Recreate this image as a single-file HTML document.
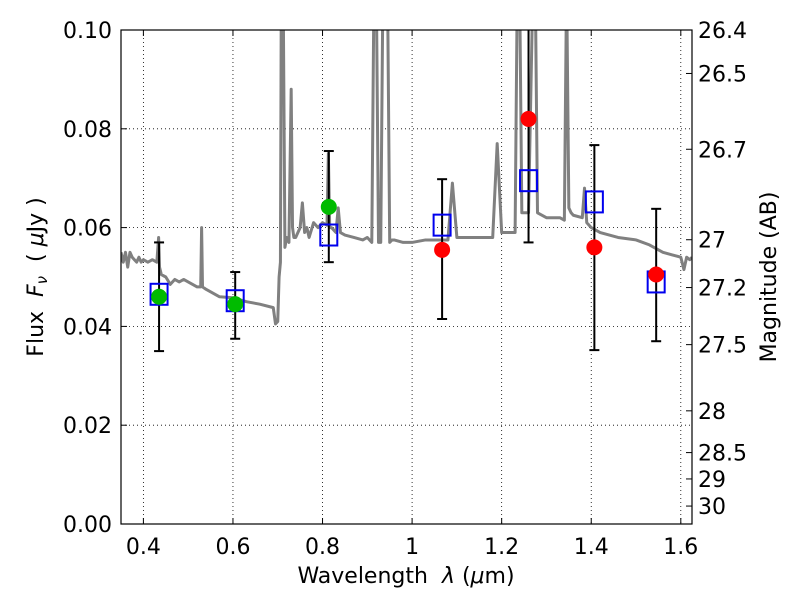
<!DOCTYPE html>
<html><head><meta charset="utf-8"><style>
body{margin:0;background:#fff}
svg text{font-family:"DejaVu Sans","Liberation Sans",sans-serif;fill:#000}
</style></head><body>
<svg id="chart" width="800" height="600" xmlns="http://www.w3.org/2000/svg">
<defs><clipPath id="clip"><rect x="121" y="30" width="571" height="494"/></clipPath></defs>
<g id="grid"></g>
<g id="spec" clip-path="url(#clip)"></g>
<g id="marks" clip-path="url(#clip)"></g>
<rect x="121" y="30" width="571" height="494" fill="none" stroke="#000" stroke-width="1.2"/>
<g id="axes"></g>
<text x="406" y="583" font-size="22" text-anchor="middle" xml:space="preserve">Wavelength  <tspan font-style="italic">λ</tspan> (<tspan font-style="italic">μ</tspan>m)</text>
<text transform="translate(43,277) rotate(-90)" font-size="22" text-anchor="middle" xml:space="preserve">Flux  <tspan font-style="italic">F</tspan><tspan font-style="italic" font-size="15" dy="4">ν</tspan><tspan dy="-4">  ( </tspan><tspan font-style="italic">μ</tspan>Jy )</text>
<text transform="translate(776,277) rotate(-90)" font-size="22" text-anchor="middle">Magnitude (AB)</text>
</svg>
<script>
const specWave=[0.35,0.355,0.36,0.365,0.37,0.375,0.38,0.385,0.39,0.395,0.40,0.41,0.42,0.43,0.434,0.436,0.44,0.45,0.46,0.47,0.48,0.49,0.50,0.51,0.52,0.528,0.53,0.532,0.54,0.55,0.57,0.60,0.63,0.66,0.69,0.695,0.70,0.703,0.706,0.708,0.712,0.716,0.72,0.725,0.73,0.733,0.736,0.74,0.75,0.755,0.76,0.765,0.77,0.78,0.79,0.80,0.81,0.813,0.816,0.82,0.83,0.835,0.84,0.85,0.87,0.89,0.90,0.91,0.915,0.92,0.925,0.93,0.935,0.94,0.945,0.95,0.955,0.96,0.98,1.00,1.03,1.06,1.08,1.09,1.10,1.13,1.16,1.18,1.19,1.20,1.22,1.23,1.235,1.24,1.245,1.26,1.27,1.275,1.28,1.30,1.33,1.34,1.345,1.35,1.355,1.36,1.38,1.385,1.39,1.40,1.42,1.46,1.50,1.53,1.56,1.58,1.60,1.607,1.613,1.62,1.625];
const specFlux=[0.055,0.053,0.055,0.052,0.055,0.054,0.0535,0.053,0.054,0.053,0.0535,0.053,0.0535,0.053,0.058,0.052,0.0505,0.050,0.0485,0.0495,0.049,0.0495,0.049,0.0485,0.048,0.048,0.060,0.048,0.0475,0.047,0.046,0.0458,0.045,0.0445,0.0438,0.0405,0.041,0.05,0.053,0.11,0.11,0.056,0.058,0.057,0.088,0.06,0.058,0.058,0.06,0.065,0.059,0.06,0.058,0.061,0.06,0.061,0.0605,0.075,0.06,0.06,0.059,0.064,0.059,0.0585,0.058,0.0575,0.058,0.057,0.11,0.11,0.057,0.057,0.11,0.11,0.11,0.057,0.0575,0.0575,0.057,0.057,0.0575,0.0575,0.0575,0.069,0.058,0.058,0.058,0.058,0.077,0.059,0.059,0.059,0.11,0.11,0.063,0.063,0.11,0.11,0.063,0.062,0.062,0.0615,0.11,0.064,0.063,0.0625,0.062,0.068,0.061,0.060,0.059,0.058,0.0575,0.0565,0.055,0.0545,0.054,0.0515,0.054,0.0535,0.054];
const bands=[0.435,0.605,0.814,1.067,1.26,1.407,1.545];
const obsFlux=[0.046,0.0445,0.0642,0.0555,0.082,0.056,0.0505];
const obsColor=['#00bb00','#00bb00','#00bb00','#ff0000','#ff0000','#ff0000','#ff0000'];
const errLow=[0.035,0.0375,0.053,0.0415,0.057,0.0352,0.037];
const errHigh=[0.057,0.051,0.0755,0.0698,0.107,0.0767,0.0638];
const modelFlux=[0.0465,0.0452,0.0585,0.0605,0.0695,0.0652,0.049];
const xTicks=[0.4,0.6,0.8,1.0,1.2,1.4,1.6];
const xTickLabels=['0.4','0.6','0.8','1','1.2','1.4','1.6'];
const yTicks=[0,0.02,0.04,0.06,0.08,0.1];
const yTickLabels=['0.00','0.02','0.04','0.06','0.08','0.10'];
const magTicks=[26.4,26.5,26.7,27,27.2,27.5,28,28.5,29,30];
const magLabels=['26.4','26.5','26.7','27','27.2','27.5','28','28.5','29','30'];

const X=v=>121+(v-0.35)/(1.625-0.35)*571;
const Y=v=>524-v/0.1*494;
const NS='http://www.w3.org/2000/svg';
function mk(tag,attrs,parent){const e=document.createElementNS(NS,tag);for(const k in attrs)e.setAttribute(k,attrs[k]);parent.appendChild(e);return e;}
const grid=document.getElementById('grid'),axes=document.getElementById('axes'),spec=document.getElementById('spec'),marks=document.getElementById('marks');
xTicks.forEach((t,i)=>{
  const g=mk('line',{x1:X(t),x2:X(t),y1:30,y2:524,stroke:'#000','stroke-width':0.8,'stroke-dasharray':'1,3'},grid);
  
  
  mk('line',{x1:X(t),x2:X(t),y1:524,y2:518,stroke:'#000'},axes);
  mk('line',{x1:X(t),x2:X(t),y1:30,y2:36,stroke:'#000'},axes);
  const tx=mk('text',{x:X(t),y:554,'font-size':22,'text-anchor':'middle'},axes);tx.textContent=xTickLabels[i];
  
  
});
yTicks.forEach((t,i)=>{
  const g=mk('line',{x1:121,x2:692,y1:Y(t),y2:Y(t),stroke:'#000','stroke-width':0.8,'stroke-dasharray':'1,3'},grid);
  
  
  mk('line',{x1:121,x2:127,y1:Y(t),y2:Y(t),stroke:'#000'},axes);
  const tx=mk('text',{x:112,y:Y(t)+8,'font-size':22,'text-anchor':'end'},axes);tx.textContent=yTickLabels[i];
  
  
});
magTicks.forEach((m,i)=>{
  const f=Math.pow(10,(23.9-m)/2.5);const y=Y(f);
  mk('line',{x1:686,x2:692,y1:y,y2:y,stroke:'#000'},axes);
  const tx=mk('text',{x:698,y:y+8,'font-size':22},axes);tx.textContent=magLabels[i];
  
  
});
const p=mk('polyline',{points:specWave.map((w,i)=>X(w)+','+Y(specFlux[i])).join(' '),fill:'none',stroke:'#808080','stroke-width':3,'stroke-linejoin':'round'},spec);


bands.forEach((b,i)=>{
  const x=X(b);
  const eb=mk('g',{},marks);
  
  
  mk('line',{x1:x,x2:x,y1:Y(errLow[i]),y2:Y(errHigh[i]),stroke:'#000','stroke-width':2},eb);
  mk('line',{x1:x-5,x2:x+5,y1:Y(errLow[i]),y2:Y(errLow[i]),stroke:'#000','stroke-width':2},eb);
  mk('line',{x1:x-5,x2:x+5,y1:Y(errHigh[i]),y2:Y(errHigh[i]),stroke:'#000','stroke-width':2},eb);
});
bands.forEach((b,i)=>{
  const s=mk('rect',{x:X(b)-8.5,y:Y(modelFlux[i])-10.5,width:17,height:21,fill:'none',stroke:'#0000ee','stroke-width':2},marks);
  
  
});
bands.forEach((b,i)=>{
  const c=mk('circle',{cx:X(b),cy:Y(obsFlux[i]),r:8,fill:obsColor[i]},marks);
  
  
});
</script>
</body></html>
